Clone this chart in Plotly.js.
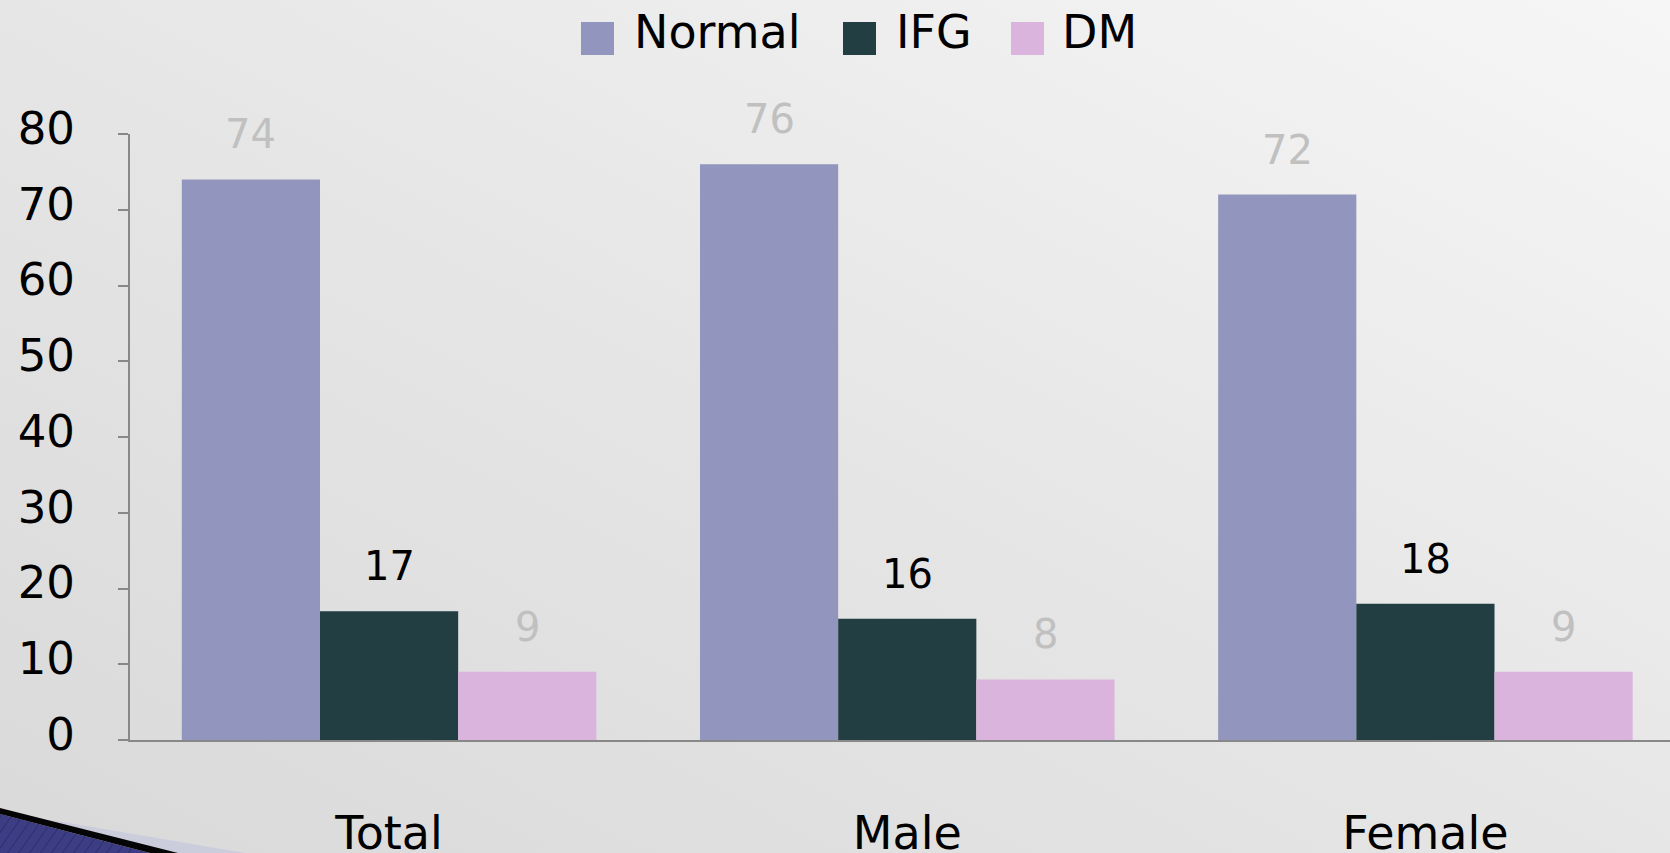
<!DOCTYPE html>
<html>
<head>
<meta charset="utf-8">
<script src="https://cdn.plot.ly/plotly-3.0.1.min.js"></script>
<style>
  html, body { margin: 0; padding: 0; }
  body {
    width: 1670px; height: 853px; overflow: hidden; position: relative;
    background: linear-gradient(to bottom left, #f6f6f6 0%, #e6e6e6 50%, #d9d9d9 100%);
  }
  #chart { width: 1670px; height: 853px; }
  #corner { position: absolute; left: 0; top: 0; pointer-events: none; }
</style>
</head>
<body>
<div id="chart"></div>
<svg id="corner" width="1670" height="853" xmlns="http://www.w3.org/2000/svg">
  <defs>
    <pattern id="hatch" width="9" height="9" patternUnits="userSpaceOnUse" patternTransform="rotate(35)">
      <rect width="9" height="9" fill="#3d3d86"/>
      <line x1="0" y1="0" x2="0" y2="9" stroke="#2a2a60" stroke-width="1.5"/>
    </pattern>
  </defs>
  <!-- slide-theme swoosh in the lower left corner -->
  <polygon points="45,819 245,853 155,853" fill="#c9cadc" opacity="0.85"/>
  <polygon points="0,814 150,853 0,853" fill="url(#hatch)"/>
  <polygon points="0,808 178,853 150,853 0,814" fill="#050505"/>
</svg>
<script>
// Prevalence (%) of glucose status by group
const categories = ['Total', 'Male', 'Female'];
const seriesNames = ['Normal', 'IFG', 'DM'];
const normalValues = [74, 76, 72];
const ifgValues = [17, 16, 18];
const dmValues = [9, 8, 9];
const yTickValues = [0, 10, 20, 30, 40, 50, 60, 70, 80];

const seriesValues = [normalValues, ifgValues, dmValues];
const seriesColors = ['#9295bd', '#223e43', '#dbb4dd'];
const labelColors = ['#c0c0c0', '#000000', '#c0c0c0'];

const W = 1670, H = 853;
const M = { l: 130, r: 0, t: 134, b: 113 };
const plotW = W - M.l - M.r, plotH = H - M.t - M.b;
const px2x = px => (px - M.l) / plotW;
const px2y = py => (H - M.b - py) / plotH;

const FONT = 'DejaVu Sans, Verdana, sans-serif';
const BARGAP = 0.2;
const barWidth = (1 - BARGAP) / seriesNames.length;

const traces = seriesNames.map((name, k) => ({
  type: 'bar',
  name: name,
  x: categories,
  y: seriesValues[k],
  marker: { color: seriesColors[k], line: { width: 0 } },
  showlegend: false,
  hoverinfo: 'x+y+name'
}));

// value labels above each bar
const annotations = [];
seriesValues.forEach((vals, k) => {
  vals.forEach((v, i) => {
    annotations.push({
      x: i + (k - 1) * barWidth,
      y: v,
      xref: 'x', yref: 'y',
      text: String(v),
      showarrow: false,
      xanchor: 'center', yanchor: 'bottom',
      yshift: 20,
      font: { family: FONT, size: 40, color: labelColors[k] }
    });
  });
});

// legend row across the top
const legendSwatchX = [581, 843, 1011];
const legendTextX = [632, 894, 1060];
const shapes = [];
seriesNames.forEach((name, k) => {
  shapes.push({
    type: 'rect', xref: 'paper', yref: 'paper',
    x0: px2x(legendSwatchX[k]), x1: px2x(legendSwatchX[k] + 33),
    y0: px2y(55), y1: px2y(22),
    fillcolor: seriesColors[k], line: { width: 0 }
  });
  annotations.push({
    x: px2x(legendTextX[k]), y: px2y(32),
    xref: 'paper', yref: 'paper',
    text: name, showarrow: false,
    xanchor: 'left', yanchor: 'middle',
    font: { family: FONT, size: 46, color: '#000000' }
  });
});

const layout = {
  width: W, height: H,
  margin: M,
  paper_bgcolor: 'rgba(0,0,0,0)',
  plot_bgcolor: 'rgba(0,0,0,0)',
  barmode: 'group',
  bargap: BARGAP,
  bargroupgap: 0,
  showlegend: false,
  xaxis: {
    type: 'category',
    range: [-0.5, 2.472],
    showline: true, linecolor: '#888888', linewidth: 2,
    ticks: '', showgrid: false, zeroline: false,
    tickfont: { family: FONT, size: 46, color: '#000000' },
    ticklabelstandoff: 52,
    fixedrange: true
  },
  yaxis: {
    range: [0, 80],
    tickvals: yTickValues,
    ticktext: yTickValues.map(String),
    showline: true, linecolor: '#888888', linewidth: 2,
    ticks: 'outside', ticklen: 10, tickwidth: 2, tickcolor: '#888888',
    showgrid: false, zeroline: false,
    tickfont: { family: FONT, size: 45, color: '#000000' },
    ticklabelstandoff: 34,
    ticklabelshift: -6,
    fixedrange: true
  },
  annotations: annotations,
  shapes: shapes
};

Plotly.newPlot('chart', traces, layout, { displayModeBar: false, staticPlot: true });
</script>
</body>
</html>
